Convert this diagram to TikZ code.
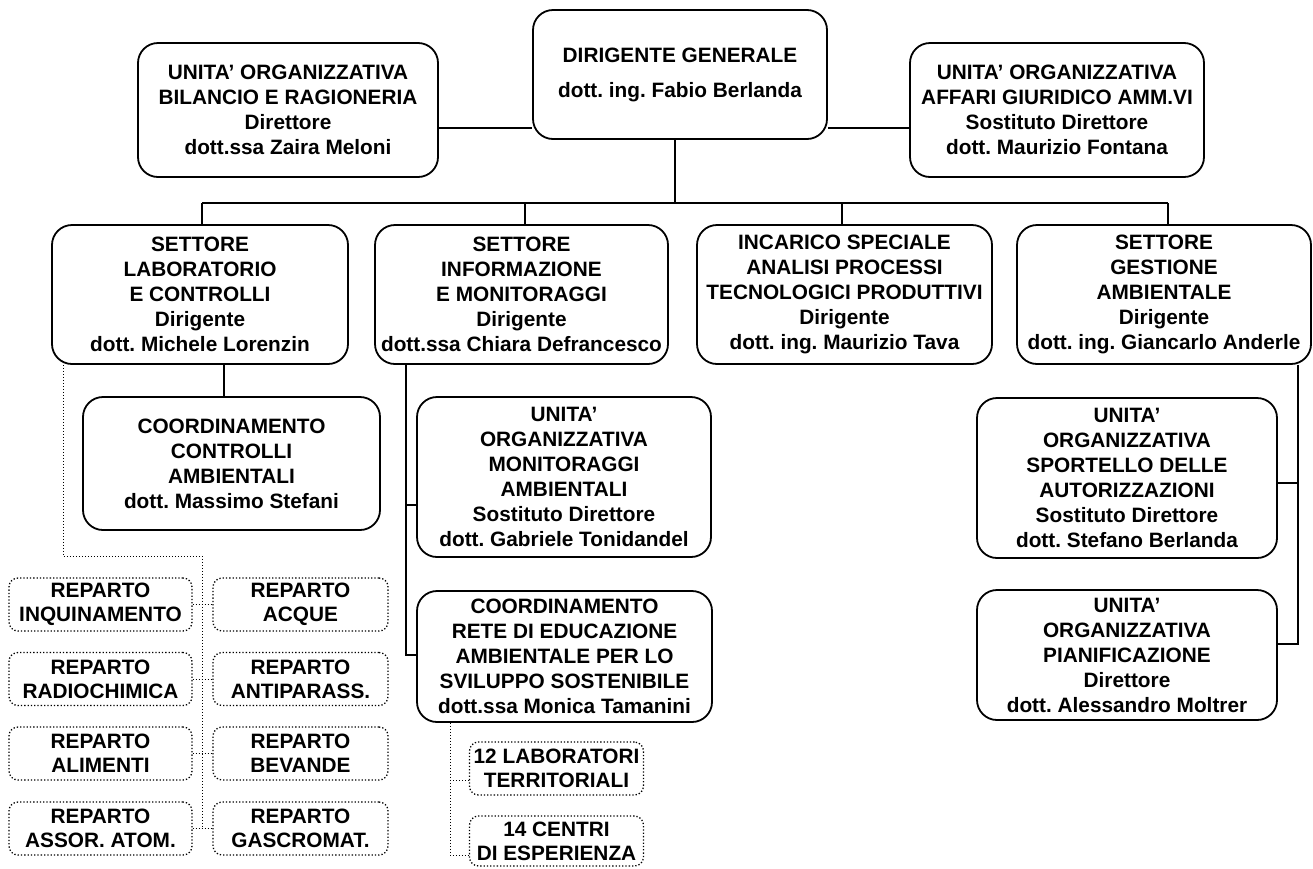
\documentclass[tikz,border=0pt]{standalone}
\usepackage{fontspec}
\setmainfont{Liberation Sans}
\frenchspacing
\begin{document}
\begin{tikzpicture}[x=1pt,y=-1pt,
  box/.style={draw, rounded corners=20pt, line width=1.8pt, align=center, inner sep=0pt,
    font=\fontsize{20.8}{25}\selectfont\bfseries},
  rbox/.style={draw, dotted, rounded corners=9pt, line width=1.3pt, align=center, inner sep=0pt,
    minimum height=53pt, font=\fontsize{20.8}{24}\selectfont\bfseries},
  conn/.style={line width=1.3pt},
  dconn/.style={line width=1pt, dotted}]
\useasboundingbox (0,0) rectangle (1313,868);

% top row
\node[box, minimum width=294pt, minimum height=129pt] (dir) at (680,74.5) {DIRIGENTE GENERALE\\[10pt]dott. ing. Fabio Berlanda};
\node[box, minimum width=300pt, minimum height=134pt] (bil) at (288,110) {UNITA’ ORGANIZZATIVA\\BILANCIO E RAGIONERIA\\Direttore\\dott.ssa Zaira Meloni};
\node[box, minimum width=294pt, minimum height=134pt] (aff) at (1057,110) {UNITA’ ORGANIZZATIVA\\AFFARI GIURIDICO AMM.VI\\Sostituto Direttore\\dott. Maurizio Fontana};

% second row
\node[box, minimum width=296pt, minimum height=139pt] (lab) at (200,294.5) {SETTORE\\LABORATORIO\\E CONTROLLI\\Dirigente\\dott. Michele Lorenzin};
\node[box, minimum width=293pt, minimum height=139pt] (inf) at (521.5,294.5) {SETTORE\\INFORMAZIONE\\E MONITORAGGI\\Dirigente\\dott.ssa Chiara Defrancesco};
\node[box, minimum width=295pt, minimum height=139pt] (inc) at (844.5,294.5) {INCARICO SPECIALE\\ANALISI PROCESSI\\TECNOLOGICI PRODUTTIVI\\Dirigente\\dott. ing. Maurizio Tava};
\node[box, minimum width=294pt, minimum height=139pt] (ges) at (1164,294.5) {SETTORE\\GESTIONE\\AMBIENTALE\\Dirigente\\dott. ing. Giancarlo Anderle};

% third row
\node[box, minimum width=297pt, minimum height=133pt] (cco) at (231.5,463.5) {COORDINAMENTO\\CONTROLLI\\AMBIENTALI\\dott. Massimo Stefani};
\node[box, minimum width=294pt, minimum height=160pt] (mon) at (564,477) {UNITA’\\ORGANIZZATIVA\\MONITORAGGI\\AMBIENTALI\\Sostituto Direttore\\dott. Gabriele Tonidandel};
\node[box, minimum width=295pt, minimum height=131pt] (rete) at (564.5,656.5) {COORDINAMENTO\\RETE DI EDUCAZIONE\\AMBIENTALE PER LO\\SVILUPPO SOSTENIBILE\\dott.ssa Monica Tamanini};
\node[box, minimum width=300pt, minimum height=160pt] (spo) at (1127,478) {UNITA’\\ORGANIZZATIVA\\SPORTELLO DELLE\\AUTORIZZAZIONI\\Sostituto Direttore\\dott. Stefano Berlanda};
\node[box, minimum width=300pt, minimum height=130pt] (pia) at (1127,655) {UNITA’\\ORGANIZZATIVA\\PIANIFICAZIONE\\Direttore\\dott. Alessandro Moltrer};

% reparti
\node[rbox, minimum width=183pt] (ra1) at (100.5,604.5) {REPARTO\\INQUINAMENTO};
\node[rbox, minimum width=175pt] (rb1) at (300.5,604.5) {REPARTO\\ACQUE};
\node[rbox, minimum width=183pt] (ra2) at (100.5,679) {REPARTO\\RADIOCHIMICA};
\node[rbox, minimum width=175pt] (rb2) at (300.5,679) {REPARTO\\ANTIPARASS.};
\node[rbox, minimum width=183pt] (ra3) at (100.5,753.5) {REPARTO\\ALIMENTI};
\node[rbox, minimum width=175pt] (rb3) at (300.5,753.5) {REPARTO\\BEVANDE};
\node[rbox, minimum width=183pt] (ra4) at (100.5,828.5) {REPARTO\\ASSOR. ATOM.};
\node[rbox, minimum width=175pt] (rb4) at (300.5,828.5) {REPARTO\\GASCROMAT.};

% laboratori / centri
\node[rbox, minimum width=174pt] (lt) at (556.5,768.5) {12 LABORATORI\\TERRITORIALI};
\node[rbox, minimum width=174pt, minimum height=50pt] (ce) at (556.5,841) {14 CENTRI\\DI ESPERIENZA};

% connectors top
\draw[conn] (bil.east |- 0,128) -- (dir.west |- 0,128);
\draw[conn] (dir.east |- 0,128) -- (aff.west |- 0,128);
\coordinate (busL) at (202,203);
\coordinate (busR) at (1168,203);
\coordinate (busD) at (675,203);
\draw[conn] (dir.south -| busD) -- (busD);
\draw[conn] (busL) -- (busR);
\draw[conn] (busL) -- (lab.north -| busL);
\draw[conn] (525,203) -- (inf.north -| 525,0);
\draw[conn] (842,203) -- (inc.north -| 842,0);
\draw[conn] (busR) -- (ges.north -| busR);

% laboratorio
\draw[conn] (lab.south -| 224,0) -- (cco.north -| 224,0);
\coordinate (ld1) at (63,556);
\coordinate (ld2) at (202,556);
\draw[dconn] (lab.south -| ld1) -- (ld1) -- (ld2) -- (ld2 |- rb4.west);
\draw[dconn] (ra1.east) -- (rb1.west);
\draw[dconn] (ra2.east) -- (rb2.west);
\draw[dconn] (ra3.east) -- (rb3.west);
\draw[dconn] (ra4.east) -- (rb4.west);

% informazione
\coordinate (iv) at (406,655);
\draw[conn] (inf.south -| iv) -- (iv) -- (rete.west |- iv);
\draw[conn] (406,505) -- (mon.west |- 0,505);
\coordinate (rv) at (450,855);
\draw[dconn] (rete.south -| rv) -- (rv) -- (ce.west |- rv);
\draw[dconn] (450,780) -- (lt.west |- 0,780);

% gestione
\coordinate (gv) at (1298,644);
\draw[conn] (ges.south -| gv) -- (gv) -- (pia.east |- gv);
\draw[conn] (1298,483) -- (spo.east |- 0,483);
\end{tikzpicture}
\end{document}
